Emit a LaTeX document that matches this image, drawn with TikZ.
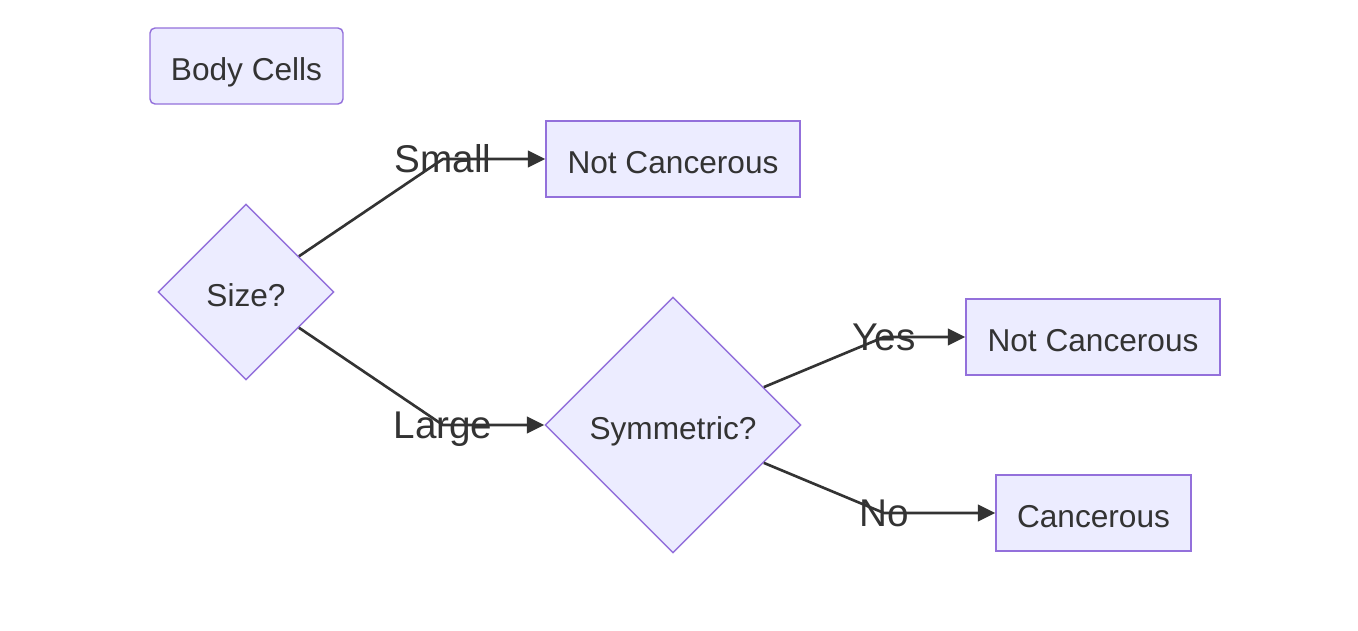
\documentclass[tikz,border=0pt]{standalone}
\usepackage{fontspec}
\setmainfont{Liberation Sans}
\usetikzlibrary{arrows.meta,shapes.geometric}
\definecolor{FlowFill}{HTML}{ECECFF}
\definecolor{FlowStroke}{HTML}{9370DB}
\definecolor{FlowInk}{HTML}{333333}

\begin{document}
\begin{tikzpicture}[>={Triangle[length=0.35cm,width=0.33cm]},
  font=\fontsize{18}{22}\selectfont,text=FlowInk,
  box/.style={draw=FlowStroke,fill=FlowFill,line width=0.8pt,minimum height=1.52cm,
    inner sep=0pt,text height=17.5pt,text depth=0.9pt},
  decision/.style={diamond,aspect=1,draw=FlowStroke,fill=FlowFill,line width=0.8pt,
    inner sep=0pt,text height=17.5pt,text depth=0.9pt},
  edgelabel/.style={font=\fontsize{22}{26}\selectfont,inner sep=0pt,text height=15.8pt,text depth=0pt},
  link/.style={->,line width=1.5pt,draw=FlowInk}]
  \useasboundingbox (0,0) rectangle (27.16,12.6);
  \node[box,rounded corners=0.1cm,minimum width=3.86cm] (body) at (4.93,11.28) {Body Cells};
  \node[box,minimum width=5.08cm] (notSmall) at (13.46,9.42) {Not Cancerous};
  \node[decision,minimum width=3.52cm,minimum height=3.52cm] (size) at (4.92,6.76) {Size?};
  \node[decision,minimum width=5.12cm,minimum height=5.12cm] (sym) at (13.46,4.10) {Symmetric?};
  \node[box,minimum width=5.08cm] (notSym) at (21.86,5.86) {Not Cancerous};
  \node[box,minimum width=3.9cm] (cancer) at (21.87,2.34) {Cancerous};

  \coordinate (kSmall) at (8.86,9.42);
  \coordinate (kLarge) at (8.86,4.10);
  \coordinate (kYes) at (17.68,5.86);
  \coordinate (kNo) at (17.68,2.34);

  \draw[link] (size) -- (kSmall) -- (notSmall);
  \draw[link] (size) -- (kLarge) -- (sym);
  \draw[link] (sym) -- (kYes) -- (notSym);
  \draw[link] (sym) -- (kNo) -- (cancer);

  \node[edgelabel] (lSmall) at (kSmall) {Small};
  \node[edgelabel] (lLarge) at (kLarge) {Large};
  \node[edgelabel] (lYes) at (kYes) {Yes};
  \node[edgelabel] (lNo) at (kNo) {No};
\end{tikzpicture}
\end{document}
